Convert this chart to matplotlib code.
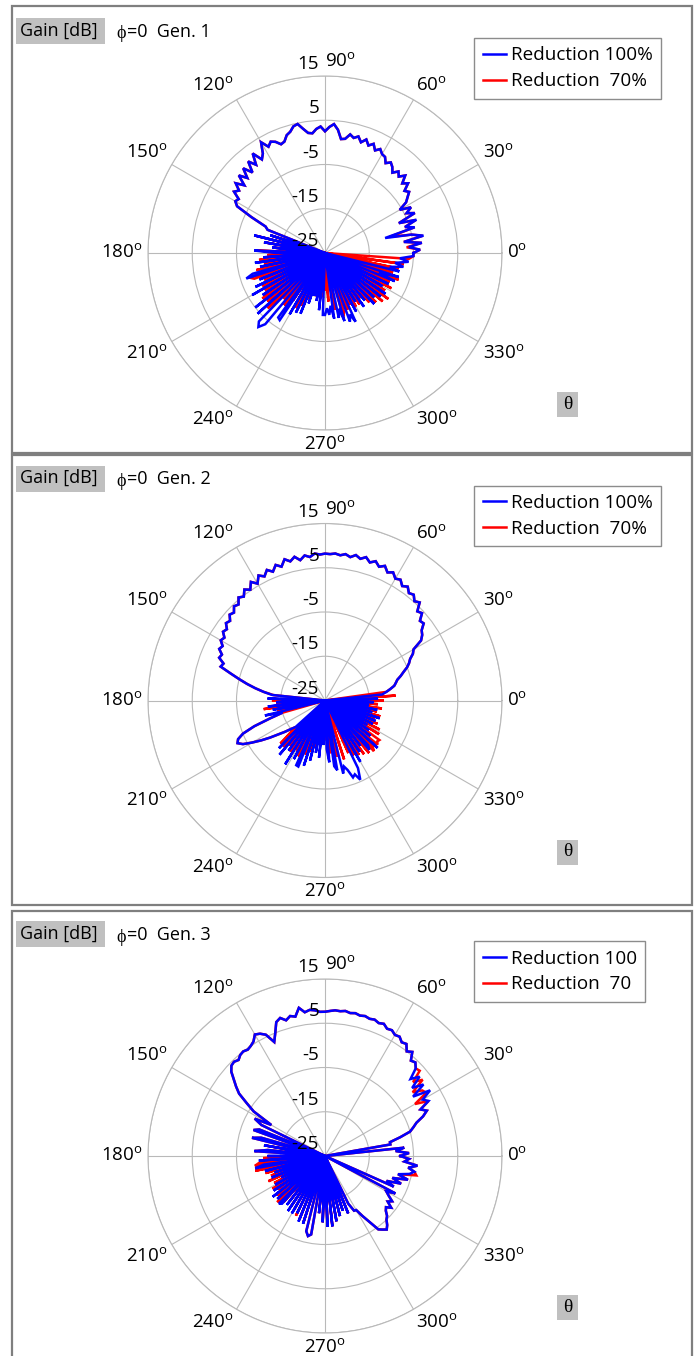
import numpy as np
import matplotlib
matplotlib.use("Agg")
import matplotlib.pyplot as plt
from matplotlib.patches import Rectangle
from matplotlib.lines import Line2D

plt.rcParams["font.family"] = ["Open Sans", "DejaVu Sans"]
plt.rcParams["mathtext.fontset"] = "custom"
plt.rcParams["mathtext.rm"] = "Open Sans"

# ---------------------------------------------------------------- data
# elevation angle theta (deg), 2-degree steps; gains in dB
theta_deg = np.arange(0, 360, 2)

# Gen. 1
gen1_red100 = [
    -5, -3.5, -6, -3, -7, -2.4, -5, -11, -3.9, -6, -3, -7, -2.8, -4.5, -3,
    -5.5, -3.4, -2.5, -1.5, -2.2, -0.5, -1.5, 0.2, -1.0, -0.2, -1.3, -0.3, 0.3, -0.5, 0.6,
    0.8, 1.6, 0.8, 2.0, 1.2, 2.3, 1.3, 2.4, 1.8, 2.4, 1.2, 1.0, 3.0, 4.2, 3.5,
    2.5, 3.6, 3.1, 2.2, 2.4, 3.5, 4.8, 4.5, 3.5, 3.0, 1.8, 1.5, 2.5, 3.0, 2.2,
    3.9, 1.5, 0.5, 2.8, 0.3, 2.0, -0.5, 1.6, -0.6, 1.2, -1.2, 0.6, -1.0, -0.2, -2.0,
    -1.6, -2.5, -6.5, -10.3, -11, -40, -12, -40, -8.5, -40, -11, -40, -13, -40, -9,
    -14, -40, -11, -40, -9, -40, -10, -40, -8, -6.3, -40, -9, -40, -7.5, -40,
    -6, -40, -8, -40, -5, -40, -4.5, -40, -3.5, -2.5, -4, -40, -7, -6.7, -40,
    -9, -40, -10, -40, -10.2, -40, -13, -40, -15, -40, -14, -40, -12, -40, -11,
    -11, -12.5, -11, -13, -10, -40, -10, -12, -9, -40, -8.5, -10, -8, -40, -10,
    -40, -12, -40, -10, -40, -11, -40, -9, -40, -10, -40, -9, -40, -8.5, -40,
    -10, -40, -9, -40, -8, -12, -7.5, -40, -7.7, -10, -7, -9, -6, -8, -5,
]
gen1_red70 = [
    -5, -3.5, -6.5, -3, -7, -2.6, -5, -10, -4, -6, -3.2, -7, -2.8, -4.5, -3,
    -5.5, -3.4, -2.5, -1.5, -2.2, -0.5, -1.5, 0.2, -1.0, -0.2, -1.3, -0.3, 0.3, -0.5, 0.6,
    0.8, 1.6, 0.8, 2.0, 1.2, 2.3, 1.3, 2.4, 1.8, 2.4, 1.2, 1.0, 3.0, 4.2, 3.5,
    2.5, 3.6, 3.1, 2.2, 2.4, 3.5, 4.8, 4.5, 3.5, 3.0, 1.8, 1.5, 2.5, 3.0, 2.2,
    3.9, 1.5, 0.5, 2.8, 0.3, 2.0, -0.5, 1.6, -0.6, 1.2, -1.2, 0.6, -1.0, -0.2, -2.0,
    -1.6, -2.5, -6.5, -10.3, -11, -40, -12, -40, -9, -40, -11, -40, -13, -40, -9.5,
    -40, -12, -40, -10, -40, -11, -40, -9, -40, -7, -8, -40, -10, -40, -9,
    -40, -9, -40, -7.5, -40, -8, -40, -7, -40, -11, -40, -10, -40, -12, -40,
    -40, -11, -40, -12, -40, -14, -40, -16, -40, -15, -40, -16.5, -40, -15, -40,
    -16.5, -40, -14, -40, -40, -12, -40, -40, -10, -11, -40, -11.2, -40, -12, -40,
    -11, -40, -11, -40, -12, -40, -10, -40, -9, -40, -8, -40, -7.3, -40, -9,
    -40, -8, -40, -9, -40, -7.3, -40, -9, -40, -8, -40, -7, -40, -6, -5,
]

# Gen. 2
gen2_red100 = [
    -40, -13, -40, -12, -11, -10, -9, -8.5, -8, -7, -6.1, -5, -4.2, -3.6, -2.5,
    -1.9, 0.6, 1.5, 2.0, 3.3, 3.0, 4.5, 4.0, 5.8, 5.2, 6.2, 5.8, 6.8, 6.2, 7.2,
    6.8, 7.8, 7.2, 8.3, 7.6, 8.5, 7.8, 8.7, 8.0, 8.6, 7.9, 8.4, 8.0, 8.3, 8.1,
    8.2, 8.0, 8.3, 7.6, 8.1, 7.2, 8.2, 7.4, 8.2, 6.8, 7.6, 6.4, 7.3, 6.2, 7.0,
    5.5, 6.6, 5.2, 6.0, 4.8, 5.4, 4.2, 4.6, 3.6, 4.0, 3.0, 3.4, 2.4, 2.8, 1.8,
    2.2, 1.2, 1.6, 0.5, 0.8, -0.6, -0.2, -2.8, -5, -7, -9, -11, -13, -40, -12,
    -40, -14, -40, -12, -40, -13, -40, -11, -15, -12, -8, -5, -3.5, -3, -4,
    -6, -8, -10, -12, -13.5, -15, -16, -40, -10, -40, -9, -40, -11, -40, -8,
    -40, -10, -40, -9, -8.9, -40, -9.5, -40, -11, -40, -13, -40, -12, -40, -15,
    -40, -14, -11, -40, -10, -9, -40, -8, -9.5, -8.5, -6.5, -7, -5.4, -8, -40,
    -9, -40, -11, -40, -12, -40, -10, -11, -40, -9, -40, -12, -40, -13, -40,
    -14, -40, -13, -40, -12.7, -40, -12, -40, -14, -40, -13, -40, -15, -40, -14,
]
gen2_red70 = [
    -12, -40, -9, -40, -11, -10, -9, -8.5, -8, -7, -6.1, -5, -4.2, -3.6, -2.5,
    -1.9, 0.6, 1.5, 2.0, 3.3, 3.0, 4.5, 4.0, 5.8, 5.2, 6.2, 5.8, 6.8, 6.2, 7.2,
    6.8, 7.8, 7.2, 8.3, 7.6, 8.5, 7.8, 8.7, 8.0, 8.6, 7.9, 8.4, 8.0, 8.3, 8.1,
    8.2, 8.0, 8.3, 7.6, 8.1, 7.2, 8.2, 7.4, 8.2, 6.8, 7.6, 6.4, 7.3, 6.2, 7.0,
    5.5, 6.6, 5.2, 6.0, 4.8, 5.4, 4.2, 4.6, 3.6, 4.0, 3.0, 3.4, 2.4, 2.8, 1.8,
    2.2, 1.2, 1.6, 0.5, 0.8, -0.6, -0.2, -2.8, -5, -7, -9, -11, -13.3, -40, -40,
    -13, -40, -14, -40, -11, -40, -14, -40, -15, -12, -8, -5, -3.5, -3, -4,
    -6, -8, -10, -12, -13.5, -15, -16, -11, -40, -10.9, -40, -12, -40, -11, -40,
    -12, -40, -11, -40, -40, -12, -40, -13, -40, -14, -40, -15, -40, -16, -40,
    -16, -40, -40, -13, -40, -40, -12, -40, -40, -11, -40, -40, -12, -40, -11,
    -40, -10.5, -40, -10, -40, -9.5, -40, -9.1, -10, -40, -9.5, -10, -9.8, -40, -10.6,
    -40, -11, -40, -12, -40, -13, -40, -12, -40, -13, -40, -12, -40, -13, -40,
]

# Gen. 3
gen3_red100 = [
    -8, -6, -9, -7, -40, -10, -10, -7.5, -5, -4, -3, -1.1, 0.2, -1, 1.5,
    0.5, 3.0, -1.0, 2.5, 0.0, 2.9, 1.0, 3.5, 4.4, 4.0, 5.7, 5.0, 6.3, 6.0, 6.8,
    6.6, 7.2, 7.0, 7.7, 7.4, 7.8, 7.6, 7.9, 7.7, 8.0, 7.8, 8.1, 7.9, 8.0, 7.8,
    7.6, 7.6, 8.0, 8.2, 7.8, 9.0, 7.2, 7.6, 6.9, 7.8, 7.2, 5.0, 3.2, 5.5, 6.3,
    6.7, 5.5, 5.0, 4.7, 5.0, 4.8, 4.2, 4.6, 4.4, 3.5, 1.9, 0.5, -1, -3.7, -6,
    -11, -7, -9, -40, -9, -7.8, -40, -10, -8, -40, -11, -40, -12, -9, -40,
    -12, -40, -10, -40, -11, -9, -40, -11, -40, -13, -40, -12, -40, -14, -40,
    -12, -40, -11, -40, -10, -40, -10.5, -40, -10, -10.5, -40, -11, -40, -10, -40,
    -10, -40, -10.6, -40, -9, -40, -8.9, -40, -7.5, -6.5, -7, -40, -12, -40, -10,
    -40, -9, -40, -9, -40, -10, -40, -11, -40, -12, -40, -11, -40, -13, -11,
    -10.9, -9, -7, -4.5, -3.9, -3.3, -4, -5, -5.5, -6.5, -7, -6, -7.5, -6.7, -8,
    -9, -7, -40, -8, -10, -6.7, -9, -5.5, -8, -5.5, -4.5, -6, -4, -7, -6,
]
gen3_red70 = [
    -8, -6, -9, -7, -40, -10, -10, -7.5, -5, -4, -3, -1.1, 0.2, -1, 1.5,
    -1.5, 2.0, 1.5, -0.5, 3.0, 1.0, 3.8, 3.5, 4.4, 4.0, 5.7, 5.0, 6.3, 6.0, 6.8,
    6.6, 7.2, 7.0, 7.7, 7.4, 7.8, 7.6, 7.9, 7.7, 8.0, 7.8, 8.1, 7.9, 8.0, 7.8,
    7.6, 7.6, 8.0, 8.2, 7.8, 9.0, 7.2, 7.6, 6.9, 7.8, 7.2, 5.0, 3.2, 5.5, 6.3,
    6.7, 5.5, 5.0, 4.7, 5.0, 4.8, 4.2, 4.6, 4.4, 3.5, 1.9, 0.5, -1, -3.7, -6,
    -11, -7, -9, -40, -9, -7.8, -40, -10, -8, -40, -11, -40, -12, -9, -40,
    -40, -11, -40, -10, -9, -40, -8.9, -40, -11, -40, -12, -40, -11, -40, -12,
    -40, -11, -40, -12, -40, -11, -40, -10, -40, -11, -40, -12, -40, -11, -40,
    -11, -40, -10, -40, -9.5, -40, -9, -40, -7.5, -6.5, -7, -40, -12, -40, -10,
    -40, -9.5, -40, -9, -40, -10, -40, -11, -40, -12, -40, -11, -40, -13, -11,
    -10.9, -9, -7, -4.5, -3.9, -3.3, -4, -5, -5.5, -6.5, -7, -6, -7.5, -6.7, -8,
    -9, -7, -40, -8, -10, -6.7, -9, -5.5, -8, -3.9, -4.5, -6, -4, -7, -6,
]

generations = ["Gen. 1", "Gen. 2", "Gen. 3"]
series_100 = [gen1_red100, gen2_red100, gen3_red100]
series_70 = [gen1_red70, gen2_red70, gen3_red70]
legend_labels = [
    ("Reduction 100%", "Reduction  70%"),
    ("Reduction 100%", "Reduction  70%"),
    ("Reduction 100", "Reduction  70"),
]
r_ticks = [-15, -5, 5, 15]
r_floor, r_max = -25, 15
angle_ticks = list(range(0, 360, 30))

# ---------------------------------------------------------------- layout
W, H, DPI = 700, 1356, 100
CX = 325                       # polar centre x (px)
CENTRES_Y = [253, 700.5, 1156]  # polar centre y (px, from top)
R_PX = 177                     # outer ring radius (px)
PANEL_Y = [(6, 453), (455, 905), (911, 1362)]

fig = plt.figure(figsize=(W / DPI, H / DPI), dpi=DPI)


def fx(x):
    return x / W


def fy(y):
    return 1 - y / H


GRID = "#b9b9b9"
BOX_GRAY = "#c0c0c0"

for i in range(3):
    cy = CENTRES_Y[i]
    top, bot = PANEL_Y[i]

    # panel frame
    fig.patches.append(Rectangle((fx(12), fy(bot)), fx(692) - fx(12), fy(top) - fy(bot),
                                 transform=fig.transFigure, fill=False,
                                 edgecolor="#7f7f7f", linewidth=1.6))

    ax = fig.add_axes([fx(CX - R_PX), fy(cy + R_PX), 2 * R_PX / W, 2 * R_PX / H],
                      projection="polar")
    ax.set_rlim(r_floor, r_max)
    ax.set_rticks(r_ticks)
    ax.set_yticklabels([])
    ax.set_xticks(np.deg2rad(angle_ticks))
    ax.set_xticklabels([])
    ax.grid(True, color=GRID, linewidth=0.8)
    ax.spines["polar"].set_color(GRID)
    ax.spines["polar"].set_linewidth(0.8)
    ax.patch.set_alpha(0)

    th = np.deg2rad(np.r_[theta_deg, 360])
    g70 = np.clip(np.r_[series_70[i], series_70[i][0]], r_floor, None)
    g100 = np.clip(np.r_[series_100[i], series_100[i][0]], r_floor, None)
    ax.plot(th, g70, color="#ff0000", linewidth=1.8, solid_joinstyle="miter")
    ax.plot(th, g100, color="#0000ff", linewidth=1.8, solid_joinstyle="miter")

    # radial labels, stacked just above each ring on the 90-degree spoke
    for rv in [r_floor] + r_ticks:
        ax.annotate(f"{rv:g}", xy=(np.pi / 2, rv), xytext=(-6, 12),
                    textcoords="offset pixels", ha="right", va="center",
                    fontsize=13.5, annotation_clip=False)

    # angle labels
    for a in angle_ticks:
        t = np.deg2rad(a)
        c, s = np.cos(t), np.sin(t)
        ha = "left" if c > 0.3 else ("right" if c < -0.3 else "center")
        va = "bottom" if s > 0.3 else ("top" if s < -0.3 else "center")
        if a == 90:
            ha = "left"
        ax.annotate(f"{a}$^{{\\mathregular{{o}}}}$", xy=(t, r_max),
                    xytext=(5 * c, 5 * s), textcoords="offset pixels",
                    ha=ha, va=va, fontsize=13.5, annotation_clip=False)

    # header: quantity box + cut description
    fig.patches.append(Rectangle((fx(16), fy(cy - 209)), fx(105) - fx(16), 26 / H,
                                 transform=fig.transFigure, facecolor=BOX_GRAY,
                                 edgecolor="none"))
    fig.text(fx(20), fy(cy - 222.5), "Gain [dB]", ha="left", va="center", fontsize=13)
    fig.text(fx(116), fy(cy - 219), "\u03d5", ha="left", va="center", fontsize=13,
             family=["Liberation Serif", "DejaVu Serif"])
    fig.text(fx(127), fy(cy - 221), f"=0  {generations[i]}", ha="left", va="center",
             fontsize=13)

    # theta axis tag
    fig.patches.append(Rectangle((fx(557), fy(cy + 164)), 21 / W, 25 / H,
                                 transform=fig.transFigure, facecolor=BOX_GRAY,
                                 edgecolor="none"))
    fig.text(fx(567.5), fy(cy + 151.5), "\u03b8", ha="center", va="center",
             fontsize=14, family=["Liberation Serif", "DejaVu Serif"])

    handles = [Line2D([], [], color="#0000ff", linewidth=1.8),
               Line2D([], [], color="#ff0000", linewidth=1.8)]
    leg = fig.legend(handles, legend_labels[i], loc="upper left",
                     bbox_to_anchor=(fx(474), fy(cy - 215)),
                     frameon=True, fancybox=False, framealpha=1,
                     edgecolor="#8c8c8c", fontsize=13.6, borderpad=0.45,
                     handlelength=1.25, handletextpad=0.25, labelspacing=0.42,
                     borderaxespad=0)
    leg.get_frame().set_linewidth(1.0)

fig.savefig("out.png", dpi=DPI)
